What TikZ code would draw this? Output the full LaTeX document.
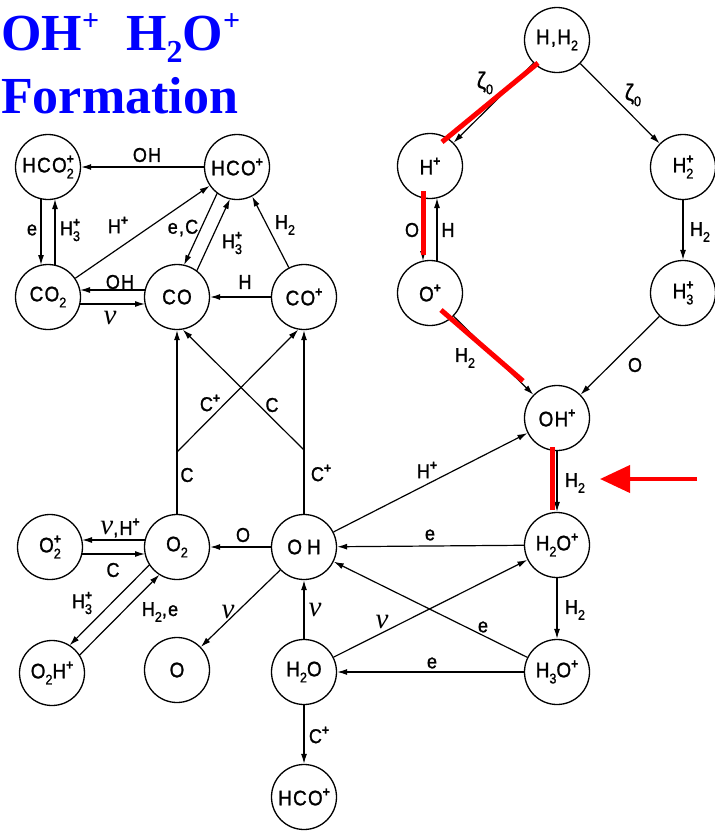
\documentclass[tikz,border=0pt]{standalone}
\usepackage{fontspec}
\usetikzlibrary{arrows.meta,calc}
\newfontfamily\diafont{Liberation Sans}[FakeStretch=0.9,FakeBold=1.2,LetterSpace=6]
\newfontfamily\headfont{Liberation Serif}
\newfontfamily\grkfont{Liberation Serif}
% small raised plus, lowered index, and both stacked
\newcommand\sP{\raisebox{0.8ex}{\fontsize{13.5}{13.5}\selectfont\bfseries +}}
\newcommand\sB[1]{\raisebox{-0.55ex}{\fontsize{14}{14}\selectfont #1}}
\newcommand\sBP[1]{\rlap{\raisebox{0.8ex}{\fontsize{13.5}{13.5}\selectfont\bfseries +}}\raisebox{-0.55ex}{\fontsize{14}{14}\selectfont #1}\hspace{2pt}}
\newcommand\nuu{{\grkfont\itshape\fontsize{29}{29}\selectfont ν}}
\newcommand\zet{{\diafont\fontsize{23}{23}\selectfont ζ}}
% one of two parallel lanes between two species (right-hand side of the direction)
\newcommand\laneto[2]{\draw[arr,shorten <=32pt,shorten >=32pt] ($(#1)!7pt!-90:(#2)$) -- ($(#2)!7pt!90:(#1)$);}
\tikzset{
  species/.style={circle, draw, line width=1.3pt, minimum size=65pt, inner sep=0pt,
    font=\diafont\fontsize{21}{21}\selectfont},
  rx/.style={font=\diafont\fontsize{20}{20}\selectfont, inner sep=1pt},
  arr/.style={line width=1.2pt, -{Latex[length=10pt,width=6pt]}},
  hl/.style={red, line width=5pt},
  headline/.style={anchor=base west, inner sep=0pt, text=blue,
    font=\headfont\bfseries\fontsize{52}{52}\selectfont}
}
\begin{document}
\begin{tikzpicture}[x=1pt,y=-1pt]
\useasboundingbox (0,0) rectangle (715,833);

% heading
\node[headline] (ttla) at (1,50) {OH\raisebox{20pt}{\fontsize{30}{30}\selectfont +}\hspace{27pt}H\raisebox{-12pt}{\fontsize{32}{32}\selectfont 2}O\raisebox{20pt}{\fontsize{30}{30}\selectfont +}};
\node[headline] (ttlb) at (1,113) {Formation};

% species
\node[species] (hcotwo)   at (48,167)  {HCO\sBP{2}};
\node[species] (hco)      at (237,167) {HCO\sP};
\node[species] (cotwo)    at (48,297)  {CO\sB{2}};
\node[species] (co)       at (177,297) {CO};
\node[species] (cop)      at (304,297) {CO\sP};
\node[species] (hh)       at (557,40)  {H,H\sB{2}};
\node[species] (hp)       at (430,166) {H\sP};
\node[species] (htwop)    at (683,167) {H\sBP{2}};
\node[species] (op)       at (430,293) {O\sP};
\node[species] (hthreep)  at (683,293) {H\sBP{3}};
\node[species] (ohp)      at (557,418) {OH\sP};
\node[species] (htwoop)   at (557,545) {H\sB{2}O\sP};
\node[species] (hthreeop) at (557,672) {H\sB{3}O\sP};
\node[species] (oh)       at (304,547) {O\hspace{5pt}H};
\node[species] (htwoo)    at (304,672) {H\sB{2}O};
\node[species] (hcob)     at (304,797) {HCO\sP};
\node[species] (otwop)    at (50,547)  {O\sBP{2}};
\node[species] (otwo)     at (177,547) {O\sB{2}};
\node[species] (otwohp)   at (52,673)  {O\sB{2}H\sP};
\node[species] (o)        at (177,670) {O};

% carbon chemistry
\draw[arr] (hco) -- (hcotwo);
\laneto{hcotwo}{cotwo}
\laneto{cotwo}{hcotwo}
\draw[arr] (cotwo) -- (hco);
\laneto{hco}{co}
\laneto{co}{hco}
\draw[arr] (cop) -- (hco);
\laneto{co}{cotwo}
\laneto{cotwo}{co}
\draw[arr] (cop) -- (co);

\coordinate (ja) at (177,452);
\coordinate (jb) at (304,450);
\draw[arr] (otwo) -- (co);
\draw[arr] (ja) -- (cop.-100);
\draw[arr] (oh) -- (cop);
\draw[arr] (jb) -- (co.-80);

% oxygen chemistry
\draw[arr] (oh) -- (otwo);
\laneto{otwo}{otwop}
\laneto{otwop}{otwo}
\laneto{otwo}{otwohp}
\laneto{otwohp}{otwo}
\draw[arr] (oh) -- (o);
\draw[arr] (htwoo) -- (oh);
\draw[arr] (htwoo) -- (hcob);
\draw[arr] (oh) -- (ohp);
\draw[arr] (htwoop) -- (oh);
\draw[arr] (htwoo) -- (htwoop);
\draw[arr] (hthreeop) -- (oh);
\draw[arr] (hthreeop) -- (htwoo);
\draw[arr] (htwoop) -- (hthreeop);
\draw[arr] (ohp) -- (htwoop);
\draw[arr] (op) -- (ohp);
\draw[arr] (hthreep) -- (ohp);

% hydrogen ionisation
\draw[arr] (hh) -- (hp);
\draw[arr] (hh) -- (htwop);
\laneto{hp}{op}
\laneto{op}{hp}
\draw[arr] (htwop) -- (hthreep);

% reaction labels
\node[rx] (la)  at (147,155) {OH};
\node[rx] (lb)  at (32,230)  {e};
\node[rx] (lc)  at (70,230)  {H\sBP{3}};
\node[rx] (ld)  at (118,225) {H\sP};
\node[rx] (le)  at (183,228) {e,C};
\node[rx] (lf)  at (232,243) {H\sBP{3}};
\node[rx] (lg)  at (285,225) {H\sB{2}};
\node[rx] (lh)  at (120,282) {OH};
\node[rx] (li)  at (110,318) {\nuu};
\node[rx] (lj)  at (245,282) {H};
\node[rx] (lk)  at (210,403) {C\sP};
\node[rx] (ll)  at (272,405) {C};
\node[rx] (lm)  at (187,475) {C};
\node[rx] (ln)  at (321,473) {C\sP};
\node[rx] (lo)  at (485,83)  {\zet\sB{0}};
\node[rx] (lp)  at (633,95)  {\zet\sB{0}};
\node[rx] (lq)  at (412,230) {O};
\node[rx] (lr)  at (448,230) {H};
\node[rx] (ls)  at (700,232) {H\sB{2}};
\node[rx] (lt)  at (635,365) {O};
\node[rx] (lu)  at (465,358) {H\sB{2}};
\node[rx] (lv)  at (427,470) {H\sP};
\node[rx] (lw)  at (575,483) {H\sB{2}};
\node[rx] (lx)  at (430,535) {e};
\node[rx] (ly)  at (575,610) {H\sB{2}};
\node[rx] (lz)  at (382,622) {\nuu};
\node[rx] (lA)  at (483,627) {e};
\node[rx] (lB)  at (432,663) {e};
\node[rx] (lC)  at (315,610) {\nuu};
\node[rx] (lD)  at (243,535) {O};
\node[rx] (lE)  at (120,528) {\nuu,H\sP};
\node[rx] (lF)  at (113,570) {C};
\node[rx] (lG)  at (82,603)  {H\sBP{3}};
\node[rx] (lH)  at (160,612) {H\sB{2},e};
\node[rx] (lI)  at (228,612) {\nuu};
\node[rx] (lJ)  at (319,735) {C\sP};

% highlighted route to OH+ and H2O+
\coordinate (ra) at (538,63);  \coordinate (rb) at (442,142);
\coordinate (rc) at (423,191); \coordinate (rd) at (423,255);
\coordinate (re) at (441,310); \coordinate (rf) at (523,381);
\coordinate (rg) at (552,447); \coordinate (rh) at (552,510);
\draw[hl] (ra) -- (rb);
\draw[hl] (rc) -- (rd);
\draw[hl] (re) -- (rf);
\draw[hl] (rg) -- (rh);
\coordinate (pa) at (697,479); \coordinate (pb) at (600,479);
\draw[red, line width=4pt, -{Triangle[length=30pt,width=27pt]}] (pa) -- (pb);
\end{tikzpicture}
\end{document}
